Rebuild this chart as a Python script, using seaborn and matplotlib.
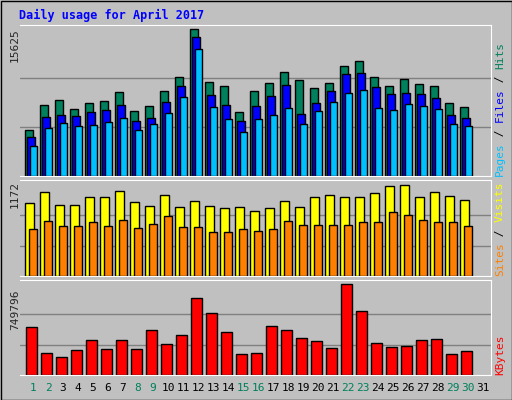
import numpy as np
import matplotlib
matplotlib.use("Agg")
import matplotlib.pyplot as plt
import seaborn as sns
from matplotlib.patches import Rectangle

days = list(range(1, 32))
hits = [4865,7528,8061,7102,7741,7954,8913,6889,7422,9020,10511,15625,9978,9552,6782,
        9020,9872,11044,10191,9339,9872,11683,12215,10511,9552,10298,9765,9552,7741,7315]
files = [4119,6250,6463,6356,6782,6996,7528,5824,6143,7848,9552,14772,8593,7528,5824,
         7422,8487,9659,6569,7741,9020,10831,10937,9446,8700,8806,8700,8274,6463,6143]
pages = [3160,5078,5611,5291,5397,5717,6143,4865,5504,6676,8380,13494,7315,6037,4652,
         6037,6463,7208,5504,6889,7848,8806,9126,7208,6996,7635,7422,7102,5504,5291]
visits = [943,1083,917,917,1019,1019,1095,955,904,1045,892,968,904,879,892,
          841,879,968,892,1019,1045,1019,1019,1070,1159,1172,1019,1083,1032,981]
sites = [611,713,650,650,701,650,726,624,675,777,637,637,573,573,599,
         586,611,713,662,662,662,662,701,701,828,790,726,701,701,650]
kbytes = [395500,181270,148310,205990,288380,214230,288380,214230,370780,255420,329580,634440,
          510850,354300,173030,181270,403740,370780,304860,280140,222470,749796,527330,263660,
          230710,238950,288380,296620,173030,197750]
weekend = [1,2,8,9,15,16,22,23,29,30]

sns.set_style("white")
plt.rcParams['font.family'] = ['DejaVu Sans Mono']
W, H = 512, 400
fig = plt.figure(figsize=(W/100, H/100), dpi=100)
fig.patch.set_facecolor('#C0C0C0')
fig.add_artist(Rectangle((0.5/W, 0.5/H), 1-1/W, 1-1/H, transform=fig.transFigure,
                         fill=False, ec='black', lw=1))

def panel(y0, y1):
    ax = fig.add_axes([20/W, 1-y1/H, 471/W, (y1-y0)/H])
    ax.set_facecolor('#C0C0C0')
    ax.set_xlim(0.133, 31.53)
    for s in ax.spines.values():
        s.set_visible(False)
    for k in ('top', 'right', 'bottom'):
        ax.spines[k].set_visible(True); ax.spines[k].set_color('white')
    ax.set_xticks([]); ax.set_yticks([])
    return ax

x = np.array(days[:30], dtype=float)
u = 1/15

ax1 = panel(25, 176)
ax1.set_ylim(0, 15625 * 151 / 146.7)
for g in (15625/3, 2*15625/3):
    ax1.axhline(g, color='#808080', lw=1, zorder=0)
ax1.bar(x - 8*u, hits, width=8*u, align='edge', color='#00805C', ec='black', lw=1)
ax1.bar(x - 5.7*u, files, width=8*u, align='edge', color='#0000FF', ec='black', lw=1)
ax1.bar(x - 3.3*u, pages, width=7*u, align='edge', color='#00C0FF', ec='black', lw=1)

ax2 = panel(180, 276)
ax2.set_ylim(0, 1172 * 96 / 91.0)
for g in (1172/3, 2*1172/3):
    ax2.axhline(g, color='#808080', lw=1, zorder=0)
ax2.bar(x - 7.7*u, visits, width=8.4*u, align='edge', color='#FFFF00', ec='black', lw=1)
ax2.bar(x - 3.7*u, sites, width=7.4*u, align='edge', color='#FF8000', ec='black', lw=1)

ax3 = panel(280, 375)
ax3.set_ylim(0, 749796 * 95 / 91.0)
for g in (749796/3, 2*749796/3):
    ax3.axhline(g, color='#808080', lw=1, zorder=0)
ax3.bar(x - 6.7*u, kbytes, width=10.4*u, align='edge', color='#FF0000', ec='black', lw=1)
for d in days:
    ax3.text(d, -13/95*ax3.get_ylim()[1], str(d), ha='center', va='center', fontsize=8,
             color='#00805C' if d in weekend else 'black')

fig.text(19/W, 1-15/H, 'Daily usage for April 2017', color='#0000FF', fontsize=8.5,
         fontweight='bold', va='center', ha='left')
fig.text(15/W, 1-45/H, '15625', rotation=90, fontsize=8, ha='center', va='center')
fig.text(15/W, 1-194/H, '1172', rotation=90, fontsize=8, ha='center', va='center')
fig.text(15/W, 1-310/H, '749796', rotation=90, fontsize=8, ha='center', va='center')

CW = 0.602 * 8 * 100 / 72  # monospace char advance in px
def vlabel(parts, y_bottom):
    y = y_bottom
    for txt, col in parts:
        fig.text(500/W, 1-y/H, txt, rotation=90, color=col, fontsize=8,
                 ha='center', va='bottom', rotation_mode='anchor' if False else 'default')
        y -= len(txt) * CW
vlabel([('Pages', '#00C0FF'), (' / ', '#000000'), ('Files', '#0000FF'), (' / ', '#000000'), ('Hits', '#00805C')], 176)
vlabel([('Sites', '#FF8000'), (' / ', '#000000'), ('Visits', '#FFFF00')], 276)
vlabel([('KBytes', '#FF0000')], 375)

fig.savefig('out.png', dpi=100, facecolor=fig.get_facecolor())
